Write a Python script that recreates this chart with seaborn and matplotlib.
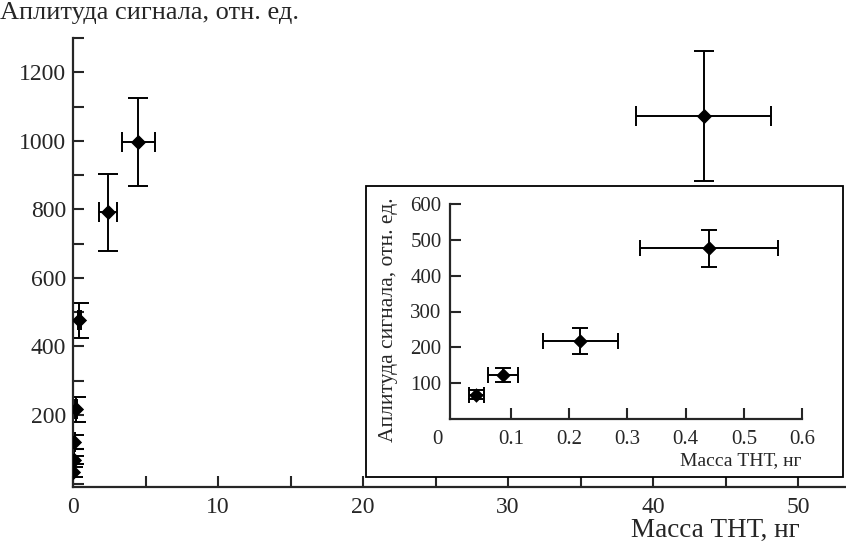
import matplotlib
matplotlib.use("Agg")
import matplotlib.pyplot as plt
from matplotlib.patches import Rectangle
from matplotlib.ticker import MultipleLocator, FuncFormatter
import seaborn as sns
import pandas as pd

# main plot: TNT mass (ng) vs signal amplitude
mass_main = [0.02, 0.04, 0.086, 0.219, 0.44, 2.4, 4.5, 43.5]
amp_main = [33, 68, 122, 217, 476, 791, 996, 1072]
mass_err_main = [0.01, 0.0126, 0.026, 0.065, 0.119, 0.6, 1.15, 4.65]
amp_err_main = [15, 12, 20, 36, 50, 113, 128, 190]

# inset: low mass range
mass_in = [0.04, 0.086, 0.219, 0.44]
amp_in = [68, 122, 217, 476]
mass_err_in = [0.0126, 0.026, 0.065, 0.119]
amp_err_in = [12, 20, 36, 51]

ylabel = "Аплитуда сигнала, отн. ед."
xlabel = "Масса ТНТ, нг"

sns.set_style("ticks")
plt.rcParams['font.family'] = ['Liberation Serif', 'DejaVu Serif']

W, H = 846, 549
fig = plt.figure(figsize=(W / 100, H / 100), dpi=100)

ax = fig.add_axes([73 / W, (H - 487) / H, (W - 73) / W, (487 - 38) / H])
df_main = pd.DataFrame({"m": mass_main, "a": amp_main})
ax.errorbar(mass_main, amp_main, xerr=mass_err_main, yerr=amp_err_main, fmt='none',
            ecolor='black', elinewidth=1.4, capsize=7, capthick=1.4, zorder=2)
sns.scatterplot(data=df_main, x="m", y="a", marker="D", color="black", s=60,
                edgecolor="black", linewidth=0, ax=ax, zorder=3)
ax.set_xlim(0, 53.3)
ax.set_ylim(-10, 1300)
ax.xaxis.set_major_locator(MultipleLocator(5))
ax.yaxis.set_major_locator(MultipleLocator(100))
ax.xaxis.set_major_formatter(FuncFormatter(lambda v, p: f"{v:.0f}" if round(v) % 10 == 0 else ""))
ax.yaxis.set_major_formatter(FuncFormatter(lambda v, p: f"{v:.0f}" if round(v) % 200 == 0 and v > 0 else ""))
ax.tick_params(direction='in', length=8, width=1.5, labelsize=17, pad=7)
ax.tick_params(axis='y', pad=5)
for s in ['top', 'right']:
    ax.spines[s].set_visible(False)
for s in ['left', 'bottom']:
    ax.spines[s].set_linewidth(1.6)
ax.set_xlabel(xlabel, fontsize=19.5, ha='right', va='center')
ax.xaxis.set_label_coords((800 - 73) / (W - 73), (487 - 530) / (487 - 38))
ax.set_ylabel("")
fig.text(0.0, 1 - 13 / H, ylabel, fontsize=19, va='center', ha='left')

# inset frame
frame = Rectangle((366 / W, (H - 477) / H), (843 - 366) / W, (477 - 186) / H,
                  transform=fig.transFigure, facecolor='white', edgecolor='black',
                  linewidth=1.3, zorder=1)
fig.add_artist(frame)

ax_in = fig.add_axes([450 / W, (H - 419) / H, (802 - 450) / W, (419 - 204) / H], zorder=2)
ax_in.patch.set_alpha(0)
df_in = pd.DataFrame({"m": mass_in, "a": amp_in})
ax_in.errorbar(mass_in, amp_in, xerr=mass_err_in, yerr=amp_err_in, fmt='none',
               ecolor='black', elinewidth=1.4, capsize=6, capthick=1.4, zorder=2)
sns.scatterplot(data=df_in, x="m", y="a", marker="D", color="black", s=55,
                edgecolor="black", linewidth=0, ax=ax_in, zorder=3)
ax_in.set_xlim(-0.005, 0.6)
ax_in.set_ylim(0, 600)
ax_in.set_xticks([0.1, 0.2, 0.3, 0.4, 0.5, 0.6])
ax_in.set_yticks([100, 200, 300, 400, 500, 600])
ax_in.tick_params(direction='in', length=8, width=1.5, labelsize=15, pad=6)
ax_in.tick_params(axis='x', pad=8)
for s in ['top', 'right']:
    ax_in.spines[s].set_visible(False)
for s in ['left', 'bottom']:
    ax_in.spines[s].set_linewidth(1.6)
ax_in.annotate("0", xy=(-0.035, 0), xycoords=ax_in.get_yaxis_transform(),
               xytext=(0, -8), textcoords='offset points', fontsize=15,
               ha='center', va='top')
ax_in.set_xlabel(xlabel, fontsize=14, ha='right', va='center')
ax_in.xaxis.set_label_coords(1.0, (419 - 461) / (419 - 204))
ax_in.set_ylabel(ylabel, fontsize=15.5, va='center')
ax_in.yaxis.set_label_coords(-0.176, (419 - 320) / (419 - 204))

fig.savefig("out.png", dpi=100)
